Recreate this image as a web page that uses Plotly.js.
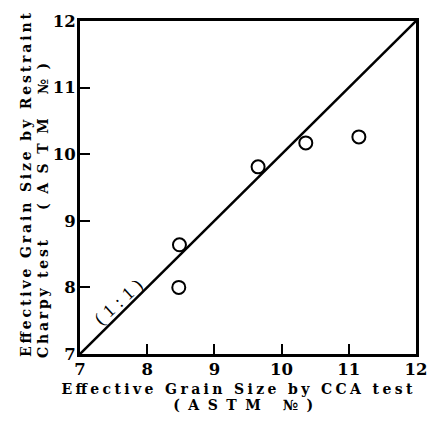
<!DOCTYPE html>
<html>
<head>
<meta charset="utf-8">
<script src="https://cdn.plot.ly/plotly-3.0.1.min.js"></script>
<style>
html,body{margin:0;padding:0;background:#fff;}
</style>
</head>
<body>
<div id="chart" style="width:430px;height:421px;"></div>
<script>
// Data
const ccaGrainSize = [8.47, 8.48, 9.65, 10.36, 11.15];
const charpyGrainSize = [8.0, 8.64, 9.81, 10.17, 10.26];
const lineX = [7, 12];
const lineY = [7, 12];
const tickVals = [7, 8, 9, 10, 11, 12];
const tickText = ['7', '8', '9', '10', '11', '12'];

const serif = 'DejaVu Serif';

const traces = [
  {x: lineX, y: lineY, type: 'scatter', mode: 'lines',
   line: {color: '#000', width: 2.5}, hoverinfo: 'skip', showlegend: false},
  {x: ccaGrainSize, y: charpyGrainSize, type: 'scatter', mode: 'markers',
   marker: {symbol: 'circle-open', size: 13, color: '#000', line: {color: '#000', width: 2}},
   showlegend: false}
];

const axisCommon = {
  range: [7, 12], tickvals: tickVals, ticktext: tickText,
  ticks: 'inside', ticklen: 10, tickwidth: 2, tickcolor: '#000',
  showline: true, linewidth: 3, linecolor: '#000', mirror: true,
  showgrid: false, zeroline: false,
  tickfont: {family: serif, size: 16.5, color: '#000', weight: 'bold'}
};

const tf = {family: serif, size: 14, color: '#000', weight: 'bold'};

const layout = {
  width: 430, height: 421,
  margin: {l: 80, r: 14, t: 21, b: 67},
  paper_bgcolor: '#fff', plot_bgcolor: '#fff',
  xaxis: Object.assign({}, axisCommon, {ticklabelstandoff: -2}),
  yaxis: Object.assign({}, axisCommon, {ticklabelstandoff: -2}),
  annotations: [
    {text: 'Effective Grain Size by Restraint', xref: 'paper', yref: 'paper',
     x: -0.161, y: 0.508, xanchor: 'center', yanchor: 'middle', textangle: -90, showarrow: false, font: tf},
    {text: 'Charpy test', xref: 'paper', yref: 'paper',
     x: -0.110, y: 0.165, xanchor: 'center', yanchor: 'middle', textangle: -90, showarrow: false, font: tf},
    {text: '(ASTM \u2116)', xref: 'paper', yref: 'paper',
     x: -0.110, y: 0.653, xanchor: 'center', yanchor: 'middle', textangle: -90, showarrow: false, font: tf},
    {text: 'Effective Grain Size by CCA test', xref: 'paper', yref: 'paper',
     x: 0.467, y: -0.104, xanchor: 'center', yanchor: 'middle', showarrow: false, font: tf},
    {text: '(ASTM \u2116)', xref: 'paper', yref: 'paper',
     x: 0.484, y: -0.153, xanchor: 'center', yanchor: 'middle', showarrow: false, font: tf},
    {text: '( 1 : 1 )', xref: 'x', yref: 'y', x: 7.57, y: 7.78,
     xanchor: 'center', yanchor: 'middle', textangle: -42, showarrow: false,
     font: {family: 'Liberation Serif', size: 18, color: '#000'}}
  ]
};

// spread widths of the title lines (letter spacing, as in the reference)
const titleWidths = {0: 344, 1: 118, 2: 147, 3: 351, 4: 140, 5: 58};

Plotly.newPlot('chart', traces, layout, {displayModeBar: false, staticPlot: true}).then(gd => {
  gd.querySelectorAll('.annotation').forEach(g => {
    const i = g.getAttribute('data-index');
    const w = titleWidths[i];
    const t = g.querySelector('text');
    if (w && t) {
      t.setAttribute('textLength', w);
      t.setAttribute('lengthAdjust', 'spacing');
    }
  });
});
</script>
</body>
</html>
